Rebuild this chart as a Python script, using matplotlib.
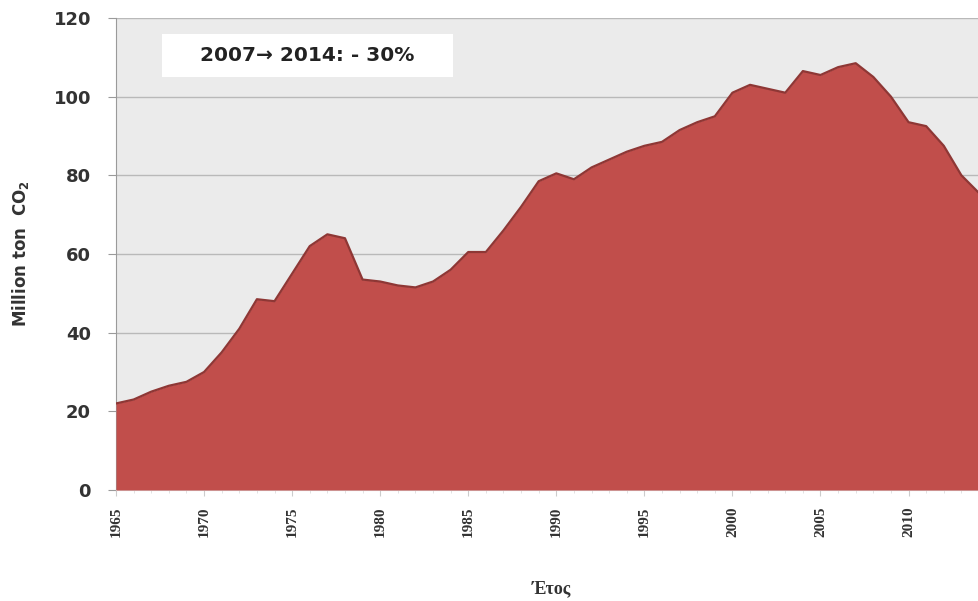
import matplotlib
matplotlib.use("Agg")
import matplotlib.pyplot as plt
from matplotlib.patches import Rectangle

# CO2 emissions (million tons)
years = list(range(1965, 2015))
co2 = [22, 23, 25, 26.5, 27.5, 30, 35, 41, 48.5, 48,
       55, 62, 65, 64, 53.5, 53, 52, 51.5, 53, 56,
       60.5, 60.5, 66, 72, 78.5, 80.5, 79, 82, 84, 86,
       87.5, 88.5, 91.5, 93.5, 95, 101, 103, 102, 101, 106.5,
       105.5, 107.5, 108.5, 105, 100, 93.5, 92.5, 87.5, 80, 75.5]
xticks = list(range(1965, 2011, 5))
yticks = [0, 20, 40, 60, 80, 100, 120]
note = "2007\u2192 2014: - 30%"

FILL = "#c14e4b"
EDGE = "#8e3735"
BG = "#ebebeb"
GRID = "#b9b9b9"
INK = "#333333"

fig = plt.figure(figsize=(9.79, 6.01), dpi=100)
ax = fig.add_axes([0.1185, 0.1847, 0.8815, 0.7854])
ax.set_facecolor(BG)

ax.fill_between(years, co2, 0, color=FILL, linewidth=0, zorder=3)
ax.plot(years, co2, color=EDGE, linewidth=1.6, zorder=4)

ax.set_xlim(1965, 2013.4)
ax.set_ylim(0, 120)
ax.set_yticks(yticks)
ax.set_xticks(xticks)
ax.set_xticks(years, minor=True)
ax.grid(axis="y", color=GRID, linewidth=1.0, zorder=1)

for side in ("top", "right"):
    ax.spines[side].set_visible(False)
ax.spines["left"].set_color("#9a9a9a")
ax.spines["bottom"].set_color("#d9d9d9")

ax.tick_params(axis="y", length=6, color="#9a9a9a", pad=12,
               labelsize=13, labelcolor=INK)
for lab in ax.get_yticklabels():
    lab.set_fontweight("bold")
ax.tick_params(axis="x", which="major", length=4, color="#cccccc", pad=8)
ax.tick_params(axis="x", which="minor", length=2, color="#dddddd")
ax.set_xticklabels([str(y) for y in xticks], rotation=90,
                   fontfamily="Liberation Serif", fontsize=11,
                   fontweight="bold", color=INK)

ax.set_ylabel(r"Million ton  CO$_\mathbf{2}$", fontsize=12,
              fontweight="bold", color=INK)
ax.yaxis.set_label_coords(-0.098, 0.5)
ax.set_xlabel("\u0388\u03c4\u03bf\u03c2", fontfamily="Liberation Serif",
              fontsize=13, fontweight="bold", color=INK)
ax.xaxis.set_label_coords(0.505, -0.19)

ax.add_patch(Rectangle((0.053, 0.875), 0.337, 0.09, transform=ax.transAxes,
                       facecolor="white", edgecolor="none", zorder=5))
ax.text(0.221, 0.92, note, transform=ax.transAxes, ha="center", va="center",
        fontsize=14.5, fontweight="bold", color="#222222", zorder=6)

fig.savefig("out.png", dpi=100)
